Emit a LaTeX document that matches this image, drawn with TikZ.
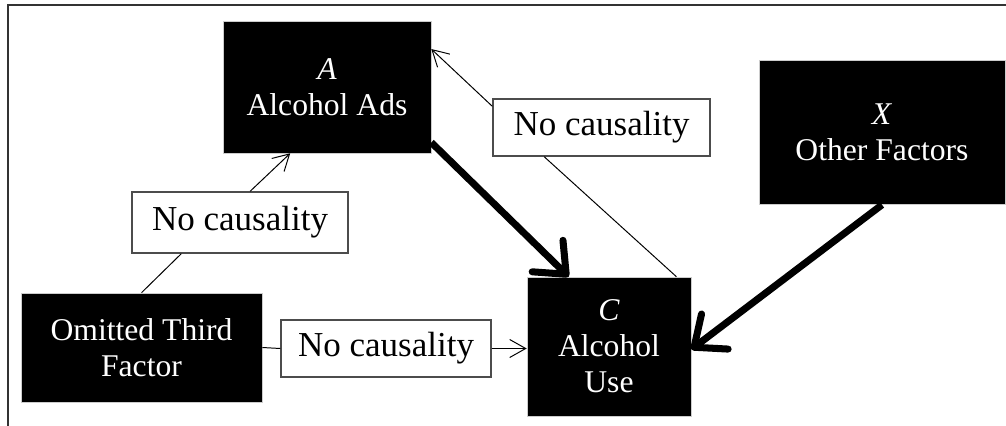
\documentclass[tikz,border=0pt]{standalone}
\usepackage{fontspec}
\setmainfont{Liberation Serif}
\usetikzlibrary{arrows.meta}

\begin{document}
\begin{tikzpicture}[x=0.025cm,y=-0.025cm,
  factor/.style={fill=black, draw=gray!40, text=white, inner sep=0pt, align=center,
    font=\fontsize{22.5}{25.6}\selectfont},
  nocause/.style={fill=white, draw=gray!60!black, line width=1pt, inner sep=0pt,
    font=\fontsize{24.9}{28}\selectfont},
  thin/.style={line width=0.7pt, -{Straight Barb[length=4mm,width=4.5mm]}},
  thick/.style={line width=5pt, -{Straight Barb[length=6.5mm,width=11mm,round]}}]

\useasboundingbox (0,0) rectangle (1006,426);

% frame
\draw [line width=1.5pt, gray!40!black] (8,426) -- (8,5) -- (1006,5);

% factors
\node [factor, minimum width=5.2cm, minimum height=3.3cm] (a) at (327,87) {\textit{A}\\Alcohol Ads};
\node [factor, minimum width=6.15cm, minimum height=3.6cm] (x) at (882,132.5) {\textit{X}\\Other Factors};
\node [factor, minimum width=4.1cm, minimum height=3.475cm] (c) at (609,346.5) {\textit{C}\\Alcohol\\Use};
\node [factor, minimum width=6.025cm, minimum height=2.725cm] (om) at (141.5,347.5) {Omitted Third\\Factor};

% no causality boxes
\node [nocause, minimum width=5.4cm, minimum height=1.525cm] (nc1) at (240,222.5) {No causality};
\node [nocause, minimum width=5.25cm, minimum height=1.425cm] (nc2) at (386,348.5) {No causality};
\node [nocause, minimum width=5.425cm, minimum height=1.425cm] (nc3) at (601.5,127.5) {No causality};

% links
\draw [line width=0.7pt] (om.north) -- (nc1.208);
\draw [thin] (nc1.72) -- (a.241);
\draw [line width=0.7pt] (om.east) -- (nc2.west);
\draw [thin] (nc2.east) -- (nc2.east -| c.west);
\draw [line width=0.7pt] (c.46) -- (nc3.207);
\draw [thin] (nc3.169) -- (a.20);

\draw [thick] (a.-28) -- (c.120);
\draw [thick] (x.south) -- (c.-2);

\end{tikzpicture}
\end{document}
